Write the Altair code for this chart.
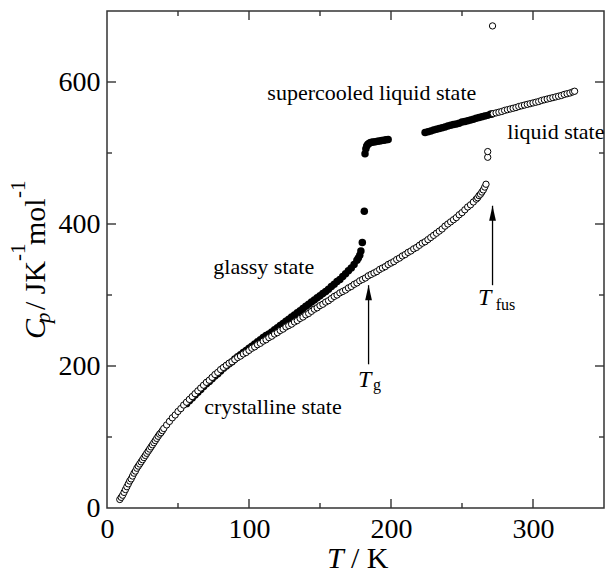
import altair as alt
import pandas as pd

# ---------------- data ----------------
# crystalline (open circles)
cryst_T = [9, 10, 11, 12, 13, 14, 15, 16, 17, 18, 19, 20, 21, 22, 23, 24, 25, 26, 27, 28, 29, 30,
           31, 32, 33, 34, 35, 36, 37, 38, 39, 40, 42, 44, 46, 48, 50, 52, 54, 56, 58, 60, 62, 64,
           66, 68, 70, 72, 74, 76, 78, 80, 82, 84, 86, 88, 90, 92, 94, 96, 98, 100, 102, 104, 106,
           108, 110, 112, 114, 116, 118, 120, 122, 124, 126, 128, 130, 132, 134, 136, 138, 140,
           142, 144, 146, 148, 150, 152, 154, 156, 158, 160, 162, 164, 166, 168, 170, 172, 174,
           176, 178, 180, 182, 184, 186, 188, 190, 192, 194, 196, 198, 200, 202, 204, 206, 208,
           210, 212, 214, 216, 218, 220, 222, 224, 226, 228, 230, 232, 234, 236, 238, 240, 242,
           244, 246, 248, 250, 252, 254, 256, 258, 260, 261, 262, 263, 264, 265, 266, 266.9]
cryst_Cp = [12, 15, 18, 22, 26, 30, 34, 38, 41, 45, 49, 52, 56, 59, 62, 65, 68, 71, 74, 77, 80, 83,
            86, 89, 92, 95, 98, 101, 104, 106, 109, 112, 117, 122, 127, 131, 136, 140, 145, 149,
            153, 157, 161, 165, 169, 173, 177, 180, 184, 188, 191, 195, 198, 201, 204, 206, 209,
            212, 214, 217, 219, 222, 225, 227, 230, 232, 235, 237, 240, 242, 245, 247, 250, 252,
            255, 257, 259, 262, 264, 267, 269, 272, 274, 277, 280, 282, 285, 287, 290, 292, 295,
            298, 300, 303, 305, 307, 310, 312, 315, 317, 320, 322, 324, 327, 329, 331, 333, 336,
            338, 340, 343, 345, 347, 350, 352, 355, 357, 360, 362, 365, 367, 370, 373, 375, 378,
            381, 384, 387, 390, 393, 397, 400, 403, 406, 409, 413, 416, 420, 424, 427, 431, 435,
            437, 440, 442, 445, 448, 452, 456]

# glassy state (filled circles)
glass_T = [56, 58, 60, 62, 64, 66, 68, 70, 72, 74, 76, 78, 80, 82, 84, 86, 88, 90, 92, 94, 96, 98,
           100, 102, 104, 106, 108, 110, 112, 114, 116, 118, 120, 122, 124, 126, 128, 130, 132,
           134, 136, 138, 140, 142, 144, 146, 148, 150, 152, 154, 156, 158, 160, 162, 164, 166,
           168, 170, 172, 174, 176, 177, 178, 178.8, 179.8, 181.2]
glass_Cp = [147, 151, 155, 159, 163, 167, 171, 175, 178, 182, 186, 189, 193, 197, 200, 203, 206,
            210, 213, 216, 219, 222, 225, 228, 231, 234, 237, 240, 243, 245, 248, 251, 254, 257,
            260, 263, 266, 269, 272, 275, 278, 281, 284, 287, 290, 293, 296, 299, 302, 305, 308,
            312, 315, 319, 322, 326, 330, 334, 338, 343, 349, 352, 356, 362, 374, 418]

# supercooled liquid (filled circles), two runs
sc1_T = [181.7, 182.3, 182.9, 183.6, 184.4, 185.3, 186.3, 187.5, 189, 190.5, 192, 193.5, 195, 196.5, 198]
sc1_Cp = [499, 506, 510, 512, 513.5, 514.5, 515, 515.5, 516, 516.5, 517, 517.5, 518, 518.5, 519]
sc2_T = [224, 226, 228, 230, 232, 234, 236, 238, 240, 242, 244, 246, 248, 250, 252, 254, 256, 258,
         260, 262, 264, 266, 268, 270, 271]
sc2_Cp = [529, 530, 531, 532.5, 533.5, 534.5, 535.5, 536.5, 538, 539, 540, 541, 542, 543.5, 544.5,
          545.5, 546.5, 547.5, 549, 550, 551, 552, 553, 554.5, 555]

# liquid (open circles)
liq_T = [272, 274, 276, 278, 280, 282, 284, 286, 288, 290, 292, 294, 296, 298, 300, 302, 304, 306,
         308, 310, 312, 314, 316, 318, 320, 322, 324, 326, 328, 329.3]
liq_Cp = [555.5, 556.5, 557.5, 558.5, 560, 561, 562, 563, 564, 565.5, 566.5, 567.5, 568.5, 569.5,
          570.5, 571.5, 572.5, 574, 575, 576, 577, 578, 579, 580, 581, 582.5, 583.5, 584.5, 586, 587]

# fusion-region open points
fus_T = [268.1, 268.1, 271.5]
fus_Cp = [494, 502, 679]

# annotations
note_text = ["supercooled liquid state", "liquid state", "glassy state", "crystalline state"]
note_T = [112.9, 281.9, 74.9, 68.5]
note_Cp = [574, 519.5, 329, 133]

arrow_T = [184.2, 271.5]
arrow_tip = [313.8, 425.7]
arrow_base = [202.4, 313.8]

tlab_T = [176.8, 261.3]
tlab_Cp = [170.8, 285.9]
sub_text = ["g", "fus"]
sub_T = [187.3, 273.7]
sub_Cp = [165.5, 278.9]

x_labels = [0, 100, 200, 300]
y_labels = [0, 200, 400, 600]
x_major = [100, 200, 300]
x_minor = [50, 150, 250]
y_major = [200, 400, 600]
y_minor = [100, 300, 500]

# ---------------- chart ----------------
W, H = 497, 497
FONT = "Liberation Serif"
FRAME = "#333333"
xs = alt.Scale(domain=[0, 350], nice=False, zero=False)
ys = alt.Scale(domain=[0, 700], nice=False, zero=False)

XAX = alt.Axis(values=x_labels, title=None, ticks=False, tickSize=0, domain=False, grid=False,
               labelFont=FONT, labelFontSize=28, labelColor="black", labelPadding=7,
               labelFlush=False, labelOverlap=False)
YAX = alt.Axis(values=y_labels, title=None, ticks=False, tickSize=0, domain=False, grid=False,
               labelFont=FONT, labelFontSize=28, labelColor="black", labelPadding=7,
               labelOverlap=False)


def X(f):
    return alt.X(f, scale=xs, axis=XAX, title=None)


def Y(f):
    return alt.Y(f, scale=ys, axis=YAX, title=None)


def xy(df):
    return alt.Chart(df).encode(x=X("T:Q"), y=Y("Cp:Q"))


def open_pts(T, Cp):
    return xy(pd.DataFrame({"T": T, "Cp": Cp})).mark_point(
        shape="circle", filled=True, fill="white", stroke="black", strokeWidth=1,
        size=40, opacity=1, fillOpacity=1, strokeOpacity=1)


def filled_pts(T, Cp):
    return xy(pd.DataFrame({"T": T, "Cp": Cp})).mark_point(
        shape="circle", filled=True, color="black", size=56, opacity=1, strokeWidth=0)


layers = []


# inner ticks
def hticks(vals, length):
    df = pd.DataFrame({"v": vals})
    b = alt.Chart(df).mark_rule(color=FRAME, strokeWidth=1.4)
    return [
        b.encode(x=X("v:Q"), y=alt.value(H), y2=alt.value(H - length)),
        b.encode(x=X("v:Q"), y=alt.value(0), y2=alt.value(length)),
    ]


def vticks(vals, length):
    df = pd.DataFrame({"v": vals})
    b = alt.Chart(df).mark_rule(color=FRAME, strokeWidth=1.4)
    return [
        b.encode(y=Y("v:Q"), x=alt.value(0), x2=alt.value(length)),
        b.encode(y=Y("v:Q"), x=alt.value(W), x2=alt.value(W - length)),
    ]


layers += hticks(x_major, 9) + hticks(x_minor, 5) + vticks(y_major, 9) + vticks(y_minor, 5)

# data series
layers += [
    filled_pts(glass_T, glass_Cp),
    open_pts(cryst_T, cryst_Cp),
    filled_pts(sc1_T, sc1_Cp),
    filled_pts(sc2_T, sc2_Cp),
    open_pts(liq_T, liq_Cp),
    open_pts(fus_T, fus_Cp),
]

# arrows
arr = pd.DataFrame({"T": arrow_T, "tip": arrow_tip, "base": arrow_base})
layers.append(alt.Chart(arr).mark_rule(color="black", strokeWidth=1.3).encode(
    x=X("T:Q"), y=Y("tip:Q"), y2="base:Q"))
layers.append(alt.Chart(arr).mark_point(
    shape="M0,0L0.45,2L-0.45,2Z", size=225, filled=True, color="black", opacity=1, strokeWidth=0
).encode(x=X("T:Q"), y=Y("tip:Q")))

# annotations
notes = pd.DataFrame({"T": note_T, "Cp": note_Cp, "t": note_text})
layers.append(xy(notes).mark_text(font=FONT, fontSize=22, align="left", baseline="alphabetic",
                                  color="black").encode(text="t:N"))
tl = pd.DataFrame({"T": tlab_T, "Cp": tlab_Cp, "t": ["T", "T"]})
layers.append(xy(tl).mark_text(font=FONT, fontSize=24, fontStyle="italic", align="left",
                               baseline="alphabetic", color="black").encode(text="t:N"))
sl = pd.DataFrame({"T": sub_T, "Cp": sub_Cp, "t": sub_text})
layers.append(xy(sl).mark_text(font=FONT, fontSize=16, align="left", baseline="alphabetic",
                               color="black").encode(text="t:N"))


# axis titles built from pieces (italic symbols, sub/superscripts)
def piece(txt, x, y, size, italic=False, angle=0):
    kw = dict(font=FONT, fontSize=size, align="left", baseline="alphabetic", color="black")
    if italic:
        kw["fontStyle"] = "italic"
    if angle:
        kw["angle"] = angle
    return alt.Chart(pd.DataFrame({"t": [txt]})).mark_text(**kw).encode(
        text="t:N", x=alt.value(x), y=alt.value(y))


layers += [
    piece("C", -62, 328, 30, italic=True, angle=270),
    piece("p", -56.6, 312, 21, italic=True, angle=270),
    piece("/ JK", -62, 299, 30, angle=270),
    piece("-1", -82, 250, 21, angle=270),
    piece("mol", -62, 234, 30, angle=270),
    piece("-1", -82, 187, 21, angle=270),
    piece("T", 220, 557, 30, italic=True),
    piece("/ K", 244, 557, 30),
]

chart = alt.layer(*layers).properties(
    width=W, height=H,
    autosize=alt.AutoSizeParams(type="none"),
    padding={"left": 107, "top": 11, "right": 2, "bottom": 66},
    background="white",
).configure_view(stroke=FRAME, strokeWidth=1.5)

chart.save("out.html", embed_options={"renderer": "svg", "actions": False})
